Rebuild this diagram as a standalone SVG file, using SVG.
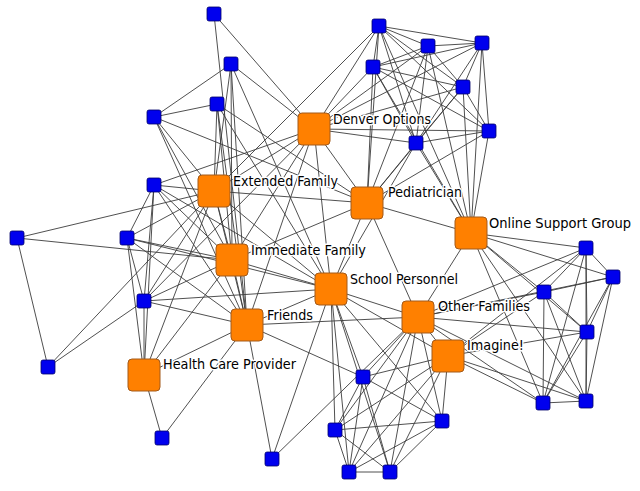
<svg xmlns="http://www.w3.org/2000/svg" width="640" height="491" viewBox="0 0 640 491">
<style>
.e line{stroke:#3c3c3c;stroke-width:0.9}
.o{fill:#ff8000;stroke:#a35a1a;stroke-width:1}
.b{fill:#0000ee;stroke:#00006a;stroke-width:0.8}
.t{font-family:"DejaVu Sans",sans-serif;font-size:13.5px;fill:#000;stroke:#fff;stroke-width:3;stroke-linejoin:round;paint-order:stroke}
</style>
<rect width="640" height="491" fill="#fff"/>
<g id="connectors" class="e">
<line x1="214" y1="14" x2="314" y2="129"/>
<line x1="214" y1="14" x2="247" y2="325"/>
<line x1="231" y1="64" x2="154" y2="117"/>
<line x1="231" y1="64" x2="314" y2="129"/>
<line x1="231" y1="64" x2="214" y2="191"/>
<line x1="231" y1="64" x2="232" y2="260"/>
<line x1="231" y1="64" x2="247" y2="325"/>
<line x1="231" y1="64" x2="331" y2="289"/>
<line x1="217" y1="104" x2="154" y2="117"/>
<line x1="217" y1="104" x2="214" y2="191"/>
<line x1="217" y1="104" x2="232" y2="260"/>
<line x1="217" y1="104" x2="247" y2="325"/>
<line x1="217" y1="104" x2="367" y2="203"/>
<line x1="217" y1="104" x2="331" y2="289"/>
<line x1="154" y1="117" x2="214" y2="191"/>
<line x1="154" y1="117" x2="232" y2="260"/>
<line x1="154" y1="117" x2="247" y2="325"/>
<line x1="154" y1="117" x2="367" y2="203"/>
<line x1="154" y1="185" x2="214" y2="191"/>
<line x1="154" y1="185" x2="314" y2="129"/>
<line x1="154" y1="185" x2="232" y2="260"/>
<line x1="154" y1="185" x2="247" y2="325"/>
<line x1="154" y1="185" x2="331" y2="289"/>
<line x1="154" y1="185" x2="127" y2="238"/>
<line x1="154" y1="185" x2="144" y2="301"/>
<line x1="154" y1="185" x2="144" y2="375"/>
<line x1="17" y1="238" x2="214" y2="191"/>
<line x1="17" y1="238" x2="232" y2="260"/>
<line x1="17" y1="238" x2="48" y2="367"/>
<line x1="127" y1="238" x2="214" y2="191"/>
<line x1="127" y1="238" x2="144" y2="301"/>
<line x1="127" y1="238" x2="144" y2="375"/>
<line x1="127" y1="238" x2="232" y2="260"/>
<line x1="127" y1="238" x2="247" y2="325"/>
<line x1="127" y1="238" x2="331" y2="289"/>
<line x1="144" y1="301" x2="247" y2="325"/>
<line x1="144" y1="301" x2="331" y2="289"/>
<line x1="144" y1="301" x2="48" y2="367"/>
<line x1="144" y1="301" x2="144" y2="375"/>
<line x1="144" y1="301" x2="214" y2="191"/>
<line x1="144" y1="301" x2="232" y2="260"/>
<line x1="144" y1="301" x2="314" y2="129"/>
<line x1="48" y1="367" x2="214" y2="191"/>
<line x1="162" y1="438" x2="144" y2="375"/>
<line x1="162" y1="438" x2="247" y2="325"/>
<line x1="272" y1="459" x2="247" y2="325"/>
<line x1="272" y1="459" x2="331" y2="289"/>
<line x1="272" y1="459" x2="418" y2="317"/>
<line x1="379" y1="26" x2="428" y2="46"/>
<line x1="379" y1="26" x2="482" y2="43"/>
<line x1="379" y1="26" x2="373" y2="67"/>
<line x1="379" y1="26" x2="463" y2="87"/>
<line x1="379" y1="26" x2="489" y2="131"/>
<line x1="379" y1="26" x2="416" y2="143"/>
<line x1="379" y1="26" x2="314" y2="129"/>
<line x1="379" y1="26" x2="367" y2="203"/>
<line x1="379" y1="26" x2="471" y2="233"/>
<line x1="379" y1="26" x2="214" y2="191"/>
<line x1="428" y1="46" x2="482" y2="43"/>
<line x1="428" y1="46" x2="373" y2="67"/>
<line x1="428" y1="46" x2="463" y2="87"/>
<line x1="428" y1="46" x2="416" y2="143"/>
<line x1="428" y1="46" x2="314" y2="129"/>
<line x1="428" y1="46" x2="367" y2="203"/>
<line x1="428" y1="46" x2="471" y2="233"/>
<line x1="482" y1="43" x2="373" y2="67"/>
<line x1="482" y1="43" x2="463" y2="87"/>
<line x1="482" y1="43" x2="489" y2="131"/>
<line x1="482" y1="43" x2="416" y2="143"/>
<line x1="482" y1="43" x2="471" y2="233"/>
<line x1="482" y1="43" x2="314" y2="129"/>
<line x1="373" y1="67" x2="463" y2="87"/>
<line x1="373" y1="67" x2="489" y2="131"/>
<line x1="373" y1="67" x2="416" y2="143"/>
<line x1="373" y1="67" x2="314" y2="129"/>
<line x1="373" y1="67" x2="367" y2="203"/>
<line x1="373" y1="67" x2="471" y2="233"/>
<line x1="463" y1="87" x2="489" y2="131"/>
<line x1="463" y1="87" x2="416" y2="143"/>
<line x1="463" y1="87" x2="314" y2="129"/>
<line x1="463" y1="87" x2="471" y2="233"/>
<line x1="463" y1="87" x2="367" y2="203"/>
<line x1="489" y1="131" x2="416" y2="143"/>
<line x1="489" y1="131" x2="314" y2="129"/>
<line x1="489" y1="131" x2="367" y2="203"/>
<line x1="489" y1="131" x2="471" y2="233"/>
<line x1="416" y1="143" x2="314" y2="129"/>
<line x1="416" y1="143" x2="367" y2="203"/>
<line x1="416" y1="143" x2="471" y2="233"/>
<line x1="416" y1="143" x2="331" y2="289"/>
<line x1="586" y1="248" x2="471" y2="233"/>
<line x1="586" y1="248" x2="613" y2="277"/>
<line x1="586" y1="248" x2="544" y2="292"/>
<line x1="586" y1="248" x2="587" y2="332"/>
<line x1="586" y1="248" x2="543" y2="403"/>
<line x1="586" y1="248" x2="586" y2="401"/>
<line x1="586" y1="248" x2="418" y2="317"/>
<line x1="586" y1="248" x2="448" y2="356"/>
<line x1="613" y1="277" x2="544" y2="292"/>
<line x1="613" y1="277" x2="587" y2="332"/>
<line x1="613" y1="277" x2="543" y2="403"/>
<line x1="613" y1="277" x2="586" y2="401"/>
<line x1="613" y1="277" x2="471" y2="233"/>
<line x1="613" y1="277" x2="418" y2="317"/>
<line x1="544" y1="292" x2="587" y2="332"/>
<line x1="544" y1="292" x2="543" y2="403"/>
<line x1="544" y1="292" x2="586" y2="401"/>
<line x1="544" y1="292" x2="471" y2="233"/>
<line x1="544" y1="292" x2="418" y2="317"/>
<line x1="544" y1="292" x2="448" y2="356"/>
<line x1="587" y1="332" x2="418" y2="317"/>
<line x1="587" y1="332" x2="448" y2="356"/>
<line x1="587" y1="332" x2="471" y2="233"/>
<line x1="587" y1="332" x2="543" y2="403"/>
<line x1="587" y1="332" x2="586" y2="401"/>
<line x1="543" y1="403" x2="586" y2="401"/>
<line x1="543" y1="403" x2="448" y2="356"/>
<line x1="543" y1="403" x2="418" y2="317"/>
<line x1="543" y1="403" x2="471" y2="233"/>
<line x1="586" y1="401" x2="448" y2="356"/>
<line x1="586" y1="401" x2="418" y2="317"/>
<line x1="586" y1="401" x2="471" y2="233"/>
<line x1="363" y1="377" x2="442" y2="421"/>
<line x1="363" y1="377" x2="335" y2="430"/>
<line x1="363" y1="377" x2="349" y2="472"/>
<line x1="363" y1="377" x2="390" y2="472"/>
<line x1="363" y1="377" x2="331" y2="289"/>
<line x1="363" y1="377" x2="418" y2="317"/>
<line x1="363" y1="377" x2="448" y2="356"/>
<line x1="363" y1="377" x2="247" y2="325"/>
<line x1="442" y1="421" x2="335" y2="430"/>
<line x1="442" y1="421" x2="349" y2="472"/>
<line x1="442" y1="421" x2="390" y2="472"/>
<line x1="442" y1="421" x2="418" y2="317"/>
<line x1="442" y1="421" x2="448" y2="356"/>
<line x1="442" y1="421" x2="331" y2="289"/>
<line x1="335" y1="430" x2="349" y2="472"/>
<line x1="335" y1="430" x2="390" y2="472"/>
<line x1="335" y1="430" x2="331" y2="289"/>
<line x1="335" y1="430" x2="418" y2="317"/>
<line x1="335" y1="430" x2="448" y2="356"/>
<line x1="349" y1="472" x2="390" y2="472"/>
<line x1="349" y1="472" x2="331" y2="289"/>
<line x1="349" y1="472" x2="418" y2="317"/>
<line x1="349" y1="472" x2="448" y2="356"/>
<line x1="390" y1="472" x2="331" y2="289"/>
<line x1="390" y1="472" x2="418" y2="317"/>
<line x1="390" y1="472" x2="448" y2="356"/>
<line x1="314" y1="129" x2="214" y2="191"/>
<line x1="314" y1="129" x2="367" y2="203"/>
<line x1="314" y1="129" x2="232" y2="260"/>
<line x1="314" y1="129" x2="331" y2="289"/>
<line x1="314" y1="129" x2="247" y2="325"/>
<line x1="214" y1="191" x2="232" y2="260"/>
<line x1="214" y1="191" x2="367" y2="203"/>
<line x1="214" y1="191" x2="247" y2="325"/>
<line x1="214" y1="191" x2="331" y2="289"/>
<line x1="214" y1="191" x2="144" y2="375"/>
<line x1="367" y1="203" x2="331" y2="289"/>
<line x1="367" y1="203" x2="471" y2="233"/>
<line x1="367" y1="203" x2="232" y2="260"/>
<line x1="367" y1="203" x2="418" y2="317"/>
<line x1="232" y1="260" x2="331" y2="289"/>
<line x1="232" y1="260" x2="247" y2="325"/>
<line x1="232" y1="260" x2="144" y2="375"/>
<line x1="247" y1="325" x2="331" y2="289"/>
<line x1="247" y1="325" x2="144" y2="375"/>
<line x1="247" y1="325" x2="418" y2="317"/>
<line x1="331" y1="289" x2="418" y2="317"/>
<line x1="331" y1="289" x2="448" y2="356"/>
<line x1="418" y1="317" x2="448" y2="356"/>
<line x1="418" y1="317" x2="471" y2="233"/>
</g>
<g id="blue-nodes">
<g id="b1"><rect class="b" x="207" y="7" width="14" height="14" rx="2"/></g>
<g id="b2"><rect class="b" x="224" y="57" width="14" height="14" rx="2"/></g>
<g id="b3"><rect class="b" x="210" y="97" width="14" height="14" rx="2"/></g>
<g id="b4"><rect class="b" x="147" y="110" width="14" height="14" rx="2"/></g>
<g id="b5"><rect class="b" x="147" y="178" width="14" height="14" rx="2"/></g>
<g id="b6"><rect class="b" x="10" y="231" width="14" height="14" rx="2"/></g>
<g id="b7"><rect class="b" x="120" y="231" width="14" height="14" rx="2"/></g>
<g id="b8"><rect class="b" x="372" y="19" width="14" height="14" rx="2"/></g>
<g id="b9"><rect class="b" x="421" y="39" width="14" height="14" rx="2"/></g>
<g id="b10"><rect class="b" x="475" y="36" width="14" height="14" rx="2"/></g>
<g id="b11"><rect class="b" x="366" y="60" width="14" height="14" rx="2"/></g>
<g id="b12"><rect class="b" x="456" y="80" width="14" height="14" rx="2"/></g>
<g id="b13"><rect class="b" x="482" y="124" width="14" height="14" rx="2"/></g>
<g id="b14"><rect class="b" x="409" y="136" width="14" height="14" rx="2"/></g>
<g id="b15"><rect class="b" x="579" y="241" width="14" height="14" rx="2"/></g>
<g id="b16"><rect class="b" x="137" y="294" width="14" height="14" rx="2"/></g>
<g id="b17"><rect class="b" x="41" y="360" width="14" height="14" rx="2"/></g>
<g id="b18"><rect class="b" x="155" y="431" width="14" height="14" rx="2"/></g>
<g id="b19"><rect class="b" x="265" y="452" width="14" height="14" rx="2"/></g>
<g id="b20"><rect class="b" x="606" y="270" width="14" height="14" rx="2"/></g>
<g id="b21"><rect class="b" x="537" y="285" width="14" height="14" rx="2"/></g>
<g id="b22"><rect class="b" x="580" y="325" width="14" height="14" rx="2"/></g>
<g id="b23"><rect class="b" x="356" y="370" width="14" height="14" rx="2"/></g>
<g id="b24"><rect class="b" x="435" y="414" width="14" height="14" rx="2"/></g>
<g id="b25"><rect class="b" x="328" y="423" width="14" height="14" rx="2"/></g>
<g id="b26"><rect class="b" x="536" y="396" width="14" height="14" rx="2"/></g>
<g id="b27"><rect class="b" x="579" y="394" width="14" height="14" rx="2"/></g>
<g id="b28"><rect class="b" x="342" y="465" width="14" height="14" rx="2"/></g>
<g id="b29"><rect class="b" x="383" y="465" width="14" height="14" rx="2"/></g>
</g>
<g id="denver-options"><rect class="o" x="298" y="113" width="32" height="32" rx="4"/><text class="t" x="333" y="124" textLength="98" lengthAdjust="spacingAndGlyphs">Denver Options</text></g>
<g id="extended-family"><rect class="o" x="198" y="175" width="32" height="32" rx="4"/><text class="t" x="233" y="186" textLength="105" lengthAdjust="spacingAndGlyphs">Extended Family</text></g>
<g id="pediatrician"><rect class="o" x="351" y="187" width="32" height="32" rx="4"/><text class="t" x="388" y="197" textLength="74" lengthAdjust="spacingAndGlyphs">Pediatrician</text></g>
<g id="online-support-group"><rect class="o" x="455" y="217" width="32" height="32" rx="4"/><text class="t" x="489" y="228" textLength="142" lengthAdjust="spacingAndGlyphs">Online Support Group</text></g>
<g id="immediate-family"><rect class="o" x="216" y="244" width="32" height="32" rx="4"/><text class="t" x="251" y="255" textLength="115" lengthAdjust="spacingAndGlyphs">Immediate Family</text></g>
<g id="school-personnel"><rect class="o" x="315" y="273" width="32" height="32" rx="4"/><text class="t" x="350" y="284" textLength="108" lengthAdjust="spacingAndGlyphs">School Personnel</text></g>
<g id="friends"><rect class="o" x="231" y="309" width="32" height="32" rx="4"/><text class="t" x="267" y="320" textLength="46" lengthAdjust="spacingAndGlyphs">Friends</text></g>
<g id="other-families"><rect class="o" x="402" y="301" width="32" height="32" rx="4"/><text class="t" x="438" y="311" textLength="92" lengthAdjust="spacingAndGlyphs">Other Families</text></g>
<g id="imagine"><rect class="o" x="432" y="340" width="32" height="32" rx="4"/><text class="t" x="467" y="350" textLength="57" lengthAdjust="spacingAndGlyphs">Imagine!</text></g>
<g id="health-care-provider"><rect class="o" x="128" y="359" width="32" height="32" rx="4"/><text class="t" x="163" y="369" textLength="133" lengthAdjust="spacingAndGlyphs">Health Care Provider</text></g>
</svg>
